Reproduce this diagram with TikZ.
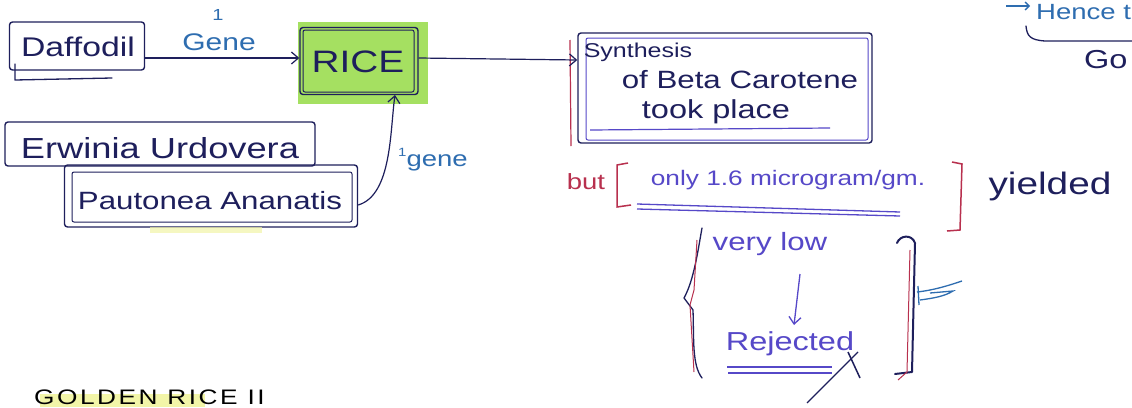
\documentclass[tikz,border=0pt]{standalone}
\usepackage{fontspec}
\newfontfamily\hand[FakeStretch=1.25]{Liberation Sans}
\newfontfamily\handwide[FakeStretch=1.25,LetterSpace=12]{Liberation Sans}
\usetikzlibrary{arrows.meta}
\definecolor{navy}{HTML}{1E1F5C}
\definecolor{penblue}{HTML}{2E6DB0}
\definecolor{penpurple}{HTML}{5648C8}
\definecolor{penred}{HTML}{B8304E}
\definecolor{hlgreen}{HTML}{8FD93A}
\definecolor{hlyellow}{HTML}{F2F5A8}
\newcommand\hsz[1]{\fontsize{#1}{#1}\selectfont}
\begin{document}
\begin{tikzpicture}[x=1pt,y=-1pt,
 box/.style={draw=navy,line width=1.4pt,rounded corners=3pt,inner sep=0pt},
 hw/.style={font=\hand,text=navy,inner sep=0pt},
 conn/.style={draw=navy,line width=1.2pt,-{Straight Barb[length=7pt,width=12pt]}},
 pen/.style={draw=navy,line width=1.3pt,line cap=round,line join=round},
]
\useasboundingbox (0,0) rectangle (1132,407);
\clip (0,0) rectangle (1132,407);
\fill[white] (0,0) rectangle (1132,407);

% Daffodil
\node[box,minimum width=135pt,minimum height=48pt] (daf) at (77,46) {};
\node[hw,font=\hand\hsz{27}] (daft) at (78,47) {Daffodil};
\draw[pen] (15,64) -- (15,80) -- (112,78);

% RICE
\fill[hlgreen,opacity=0.8] (298,22) rectangle (428,104);
\node[box,minimum width=118pt,minimum height=67pt] (rice) at (359,61) {};
\draw[navy,line width=1pt,rounded corners=2pt] (303,30) rectangle (414,92);
\node[hw,font=\hand\hsz{31}] (ricet) at (358,62) {RICE};

% arrow Daffodil -> RICE
\draw[conn] (daf.east |- 0,58) -- (rice.west |- 0,58);
\node[hw,text=penblue,font=\hand\hsz{24}] (genel) at (219,42) {Gene};
\node[hw,text=penblue,font=\hand\hsz{16}] (one) at (218,15) {1};

% Synthesis box
\node[box,minimum width=294pt,minimum height=110pt] (syn) at (725,88) {};
\draw[penpurple,line width=1pt,rounded corners=2pt] (586,38) rectangle (868,140);
\draw[penred,line width=1.2pt] (570,40) -- (571,146);
\node[hw,font=\hand\hsz{20}] (s1) at (638,52) {Synthesis};
\node[hw,font=\hand\hsz{25}] (s2) at (740,80) {of Beta Carotene};
\node[hw,font=\hand\hsz{26}] (s3) at (716,112) {took place};
\draw[penpurple,line width=1.2pt] (590,130) -- (830,128);
\draw[conn] (rice.east |- 0,58) -- (syn.west |- 0,60);

% Erwinia & Pautonea
\node[box,minimum width=310pt,minimum height=44pt] (erw) at (160,144) {};
\node[hw,font=\hand\hsz{29}] (erwt) at (160,148) {Erwinia Urdovera};
\node[box,minimum width=293pt,minimum height=62pt] (pau) at (211,196) {};
\draw[navy,line width=1pt,rounded corners=2pt] (72,172) rectangle (352,222);
\node[hw,font=\hand\hsz{25}] (paut) at (210,201) {Pautonea Ananatis};
\fill[hlyellow,opacity=0.7] (150,227) rectangle (262,233);
\draw[conn] (pau.east |- 0,205) .. controls (392,195) and (390,130) .. (395,95);
\node[hw,text=penblue,font=\hand\hsz{22}] (gene2) at (433,160) {\raisebox{0.45em}{\hsz{12}1}gene};

% but [ ... ] yielded
\node[hw,text=penred,font=\hand\hsz{22}] (but) at (586,182) {but};
\draw[penred,line width=1.5pt] (628,163) -- (617,165) -- (617,207) -- (631,205);
\node[hw,text=penpurple,font=\hand\hsz{21}] (only) at (788,180) {only 1.6 microgram/gm.};
\draw[penpurple,line width=1.3pt] (637,204) -- (900,212);
\draw[penpurple,line width=1.3pt] (637,209) -- (900,216);
\draw[penred,line width=1.5pt] (952,162) -- (962,164) -- (960,230) -- (947,231);
\node[hw,font=\hand\hsz{31}] (yield) at (1050,186) {yielded};

% brace and very low -> Rejected
\draw[pen] (702,228) .. controls (698,250) and (694,280) .. (684,298) -- (693,310) .. controls (694,340) and (692,365) .. (702,378);
\draw[penred,line width=1pt] (697,240) -- (694,290) -- (690,305) -- (694,372);
\node[hw,text=penpurple,font=\hand\hsz{25}] (vlow) at (770,244) {very low};
\node[hw,text=penpurple,font=\hand\hsz{26}] (rej) at (790,344) {Rejected};
\draw[penpurple,line width=1.3pt,-{Straight Barb[length=7pt,width=12pt]}] (800,274) -- (794,325);
\draw[penpurple,line width=1.3pt] (727,367) -- (832,367);
\draw[penpurple,line width=1.3pt] (728,373) -- (832,373);
\draw[navy,line width=1.2pt] (807,403) -- (858,352);
\draw[navy,line width=1.5pt] (848,352) -- (860,378);
% right bracket
\draw[pen,line width=2pt] (897,243) .. controls (900,235) and (912,234) .. (915,243) -- (912,372) -- (895,374);
\draw[penred,line width=1pt] (910,250) -- (907,372) -- (898,380);
\draw[penblue,line width=1.3pt] (917,292) .. controls (935,290) and (950,285) .. (962,281);
\draw[penblue,line width=1.3pt] (920,300) .. controls (935,298) and (945,296) .. (953,291) -- (930,293);
\draw[penblue,line width=1.3pt] (918,286) -- (919,305);

% top right
\draw[penblue,line width=1.3pt,-{Straight Barb[length=4pt,width=8pt]}] (1006,6) -- (1030,6);
\node[hw,text=penblue,font=\hand\hsz{22},anchor=west] (hence) at (1036,12) {Hence t};
\draw[pen] (1026,26) .. controls (1027,36) and (1030,40) .. (1045,41) -- (1132,41);
\node[hw,font=\hand\hsz{26},anchor=west] (go) at (1084,60) {Go};

% bottom left
\fill[hlyellow] (40,394) rectangle (205,407);
\node[hw,text=black,font=\handwide\hsz{21},anchor=south west] (golden) at (34,405) {GOLDEN RICE II};
\end{tikzpicture}
\end{document}
